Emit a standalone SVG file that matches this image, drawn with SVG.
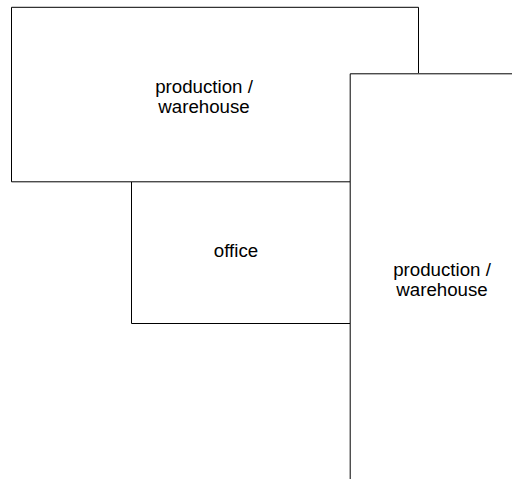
<svg xmlns="http://www.w3.org/2000/svg" width="512" height="479" viewBox="0 0 512 479">
<style>
.w{fill:#fff;stroke:none}
.l{fill:none;stroke:#000;stroke-width:1}
text{font-family:"Liberation Sans",Arial,sans-serif;font-size:18.700px;fill:#000;text-anchor:middle}
</style>
<rect class="w" width="512" height="479"/>
<g id="warehouse-top"><path class="l" d="M418.500 73V7.300H11.500V181.800H350"/><text x="204" y="93">production /</text><text x="204" y="113">warehouse</text></g>
<g id="office"><path class="l" d="M131.500 182V323.500H350"/><text x="236" y="257">office</text></g>
<g id="warehouse-right"><path class="l" d="M350.200 479V73.800H512"/><text x="442" y="276">production /</text><text x="442" y="296">warehouse</text></g>
</svg>
